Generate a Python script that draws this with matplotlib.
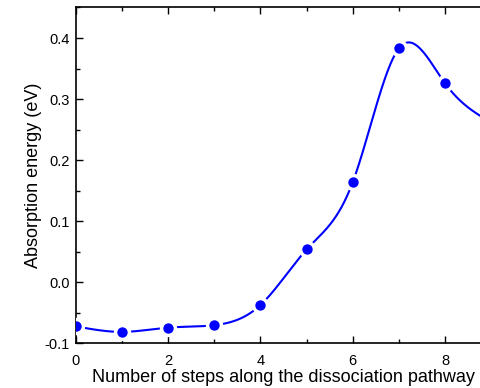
import numpy as np
import matplotlib
matplotlib.use("Agg")
import matplotlib.pyplot as plt
from matplotlib.ticker import MultipleLocator, FormatStrFormatter

plt.rcParams['font.family'] = ['Liberation Sans', 'DejaVu Sans']

# Absorption energy along the dissociation pathway
steps = [0, 1, 2, 3, 4, 5, 6, 7, 8, 9]
energy = [-0.072, -0.081, -0.074, -0.070, -0.037, 0.054, 0.164, 0.383, 0.326, 0.262]


def natural_spline(x, y, xs):
    x = np.asarray(x, float)
    y = np.asarray(y, float)
    n = len(x)
    h = np.diff(x)
    A = np.zeros((n, n))
    b = np.zeros(n)
    A[0, 0] = A[-1, -1] = 1.0
    for i in range(1, n - 1):
        A[i, i - 1] = h[i - 1]
        A[i, i] = 2 * (h[i - 1] + h[i])
        A[i, i + 1] = h[i]
        b[i] = 3 * ((y[i + 1] - y[i]) / h[i] - (y[i] - y[i - 1]) / h[i - 1])
    c = np.linalg.solve(A, b)
    bb = (y[1:] - y[:-1]) / h - h * (2 * c[:-1] + c[1:]) / 3
    d = (c[1:] - c[:-1]) / (3 * h)
    idx = np.clip(np.searchsorted(x, xs) - 1, 0, n - 2)
    dx = xs - x[idx]
    return y[idx] + bb[idx] * dx + c[idx] * dx ** 2 + d[idx] * dx ** 3


fig = plt.figure(figsize=(4.81, 3.88), dpi=100)
# the frame runs slightly past the right edge of the canvas
ax = fig.add_axes([0.158, 0.1147, 0.863, 0.866])

xs = np.linspace(steps[0], steps[-1], 600)
ax.plot(xs, natural_spline(steps, energy, xs), color='#0000ff', lw=1.5, zorder=2)
ax.plot(steps, energy, 'o', color='#0000ff', ms=10, mec='white', mew=2.5, zorder=3)

ax.set_xlim(0, 9)
ax.set_ylim(-0.1, 0.45)
ax.xaxis.set_major_locator(MultipleLocator(2))
ax.xaxis.set_minor_locator(MultipleLocator(1))
ax.yaxis.set_major_locator(MultipleLocator(0.1))
ax.yaxis.set_minor_locator(MultipleLocator(0.05))
ax.yaxis.set_major_formatter(FormatStrFormatter('%.1f'))
ax.tick_params(which='both', direction='in', top=True, right=True, labelsize=10.5, width=1)
ax.tick_params(which='major', length=5)
ax.tick_params(which='minor', length=3)
ax.tick_params(axis='x', pad=7.5)
ax.tick_params(axis='y', pad=4.5)
for s in ax.spines.values():
    s.set_linewidth(1.2)

ax.set_xlabel('Number of steps along the dissociation pathway', fontsize=13, labelpad=1)
ax.set_ylabel('Absorption energy (eV)', fontsize=13, labelpad=2)

fig.savefig('out.png', dpi=100)
